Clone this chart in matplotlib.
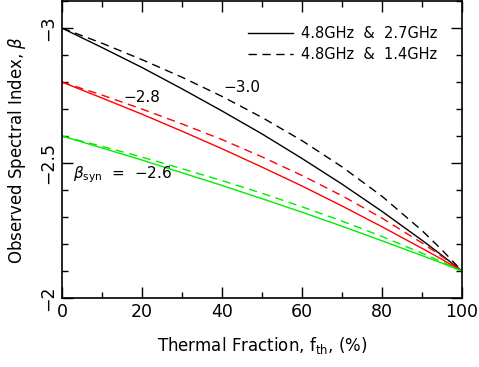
import matplotlib
matplotlib.use("Agg")
import matplotlib.pyplot as plt
from matplotlib.lines import Line2D
from matplotlib.ticker import MultipleLocator

# thermal fraction (%)
f_th = [0, 10, 20, 30, 40, 50, 60, 70, 80, 90, 95, 100]

# observed spectral index, 4.8GHz & 2.7GHz (solid)
b30_solid = [-3.000, -2.928, -2.854, -2.775, -2.693, -2.608, -2.517, -2.422, -2.321, -2.214, -2.158, -2.100]
b28_solid = [-2.800, -2.741, -2.681, -2.618, -2.553, -2.485, -2.415, -2.341, -2.264, -2.184, -2.143, -2.100]
b26_solid = [-2.600, -2.556, -2.511, -2.464, -2.417, -2.368, -2.318, -2.266, -2.212, -2.157, -2.129, -2.100]

# observed spectral index, 4.8GHz & 1.4GHz (dashed)
b30_dash = [-3.000, -2.944, -2.883, -2.818, -2.747, -2.669, -2.583, -2.486, -2.377, -2.250, -2.178, -2.100]
b28_dash = [-2.800, -2.752, -2.700, -2.645, -2.587, -2.523, -2.454, -2.379, -2.296, -2.204, -2.154, -2.100]
b26_dash = [-2.600, -2.562, -2.522, -2.479, -2.435, -2.388, -2.338, -2.285, -2.228, -2.166, -2.134, -2.100]

plt.rcParams['font.family'] = ['DejaVu Sans']
plt.rcParams['mathtext.fontset'] = 'dejavusans'

fig = plt.figure(figsize=(4.79, 3.67), dpi=100)
ax = fig.add_axes([0.1294, 0.188, 0.8351, 0.809])

dash = (0, (6, 4))
ax.plot(f_th, b30_solid, color='black', lw=1.0)
ax.plot(f_th, b30_dash, color='black', lw=1.0, linestyle=dash)
ax.plot(f_th, b28_solid, color='#ff0000', lw=1.0)
ax.plot(f_th, b28_dash, color='#ff0000', lw=1.0, linestyle=dash)
ax.plot(f_th, b26_solid, color='#00ee00', lw=1.0)
ax.plot(f_th, b26_dash, color='#00ee00', lw=1.0, linestyle=dash)

ax.set_xlim(0, 100)
ax.set_ylim(-2.0, -3.1)
ax.xaxis.set_major_locator(MultipleLocator(20))
ax.xaxis.set_minor_locator(MultipleLocator(10))
ax.yaxis.set_major_locator(MultipleLocator(0.5))
ax.yaxis.set_minor_locator(MultipleLocator(0.1))
ax.tick_params(which='both', direction='in', top=True, right=True, labelsize=12.5, width=1)
ax.tick_params(which='major', length=8)
ax.tick_params(which='minor', length=4)
ax.tick_params(axis='y', labelrotation=90)
ax.set_yticks([-3, -2.5, -2])
ax.set_yticklabels(['\u22123', '\u22122.5', '\u22122'], va='center')
for sp in ax.spines.values():
    sp.set_linewidth(1.2)

ax.set_xlabel(r'Thermal Fraction, f$_{\rm th}$, (%)', fontsize=12, labelpad=10)
ax.set_ylabel(r'Observed Spectral Index, $\beta$', fontsize=12, labelpad=8)

ax.text(40.3, -2.781, '\u22123.0', fontsize=11, va='center')
ax.text(15.3, -2.744, '\u22122.8', fontsize=11, va='center')
ax.text(2.8, -2.456, r'$\beta_{\rm syn}$  =  ' + '\u22122.6', fontsize=11, va='center')

handles = [Line2D([], [], color='black', lw=1.0),
           Line2D([], [], color='black', lw=1.0, linestyle=dash)]
ax.legend(handles, ['4.8GHz  &  2.7GHz', '4.8GHz  &  1.4GHz'], loc='upper right',
          frameon=False, fontsize=10.5, handlelength=3.1, handletextpad=0.55,
          labelspacing=0.45, borderaxespad=1.2, borderpad=0.5)

fig.savefig('out.png', dpi=100)
